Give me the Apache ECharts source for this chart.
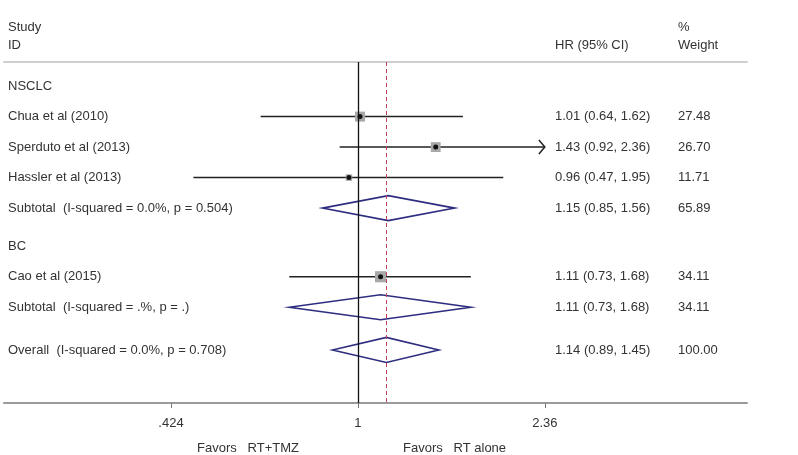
<!DOCTYPE html>
<html>
<head>
<meta charset="utf-8">
<script src="https://cdn.jsdelivr.net/npm/echarts@6/dist/echarts.min.js"></script>
<style>
  html, body { margin: 0; padding: 0; background: #fff; }
  #forest { width: 798px; height: 455px; }
</style>
</head>
<body>
<div id="forest"></div>
<script>
var rowLabels = ['NSCLC', 'Chua et al (2010)', 'Sperduto et al (2013)', 'Hassler et al (2013)',
    'Subtotal  (I-squared = 0.0%, p = 0.504)', 'BC', 'Cao et al (2015)',
    'Subtotal  (I-squared = .%, p = .)', 'Overall  (I-squared = 0.0%, p = 0.708)'];
var rowKinds = ['group', 'study', 'study', 'study', 'subtotal', 'group', 'study', 'subtotal', 'overall'];
var hr     = [null, 1.01, 1.43, 0.96, 1.15, null, 1.11, 1.11, 1.14];
var lower  = [null, 0.64, 0.92, 0.47, 0.85, null, 0.73, 0.73, 0.89];
var upper  = [null, 1.62, 2.36, 1.95, 1.56, null, 1.68, 1.68, 1.45];
var weight = [null, 27.48, 26.70, 11.71, 65.89, null, 34.11, 34.11, 100.00];
var tickValues = [0.424, 1, 2.36];
var tickLabels = ['.424', '1', '2.36'];

(function () {
    var chart = echarts.init(document.getElementById('forest'));
    var font = '13px "Liberation Sans", Arial, sans-serif';
    var txt = '#333';
    var overallHR = hr[rowKinds.indexOf('overall')];

    // vertical slot of each row (gaps before 2nd group and before overall)
    var rowPos = [];
    var p = 0.79;
    rowKinds.forEach(function (k, i) {
        if (i > 0) p += 1;
        if (k == 'group' && i > 0) p += 0.25;
        if (k == 'overall') p += 0.4;
        rowPos.push(p);
    });

    var data = rowKinds.map(function (k, i) {
        return [hr[i] ? Math.log(hr[i]) : 0, rowPos[i], i];
    });

    function renderRow(params, api) {
        var i = api.value(2);
        var y = api.coord([0, rowPos[i]])[1];
        var kids = [];
        kids.push({ type: 'text', style: { text: rowLabels[i], x: 8, y: y, font: font, fill: txt, verticalAlign: 'middle' } });
        if (hr[i] != null) {
            kids.push({ type: 'text', style: {
                text: hr[i].toFixed(2) + ' (' + lower[i].toFixed(2) + ', ' + upper[i].toFixed(2) + ')',
                x: 555, y: y, font: font, fill: txt, verticalAlign: 'middle' } });
            kids.push({ type: 'text', style: { text: weight[i].toFixed(2), x: 678, y: y, font: font, fill: txt, verticalAlign: 'middle' } });
            var xm = api.coord([Math.log(hr[i]), rowPos[i]])[0];
            var xl = api.coord([Math.log(lower[i]), rowPos[i]])[0];
            var xh = api.coord([Math.log(upper[i]), rowPos[i]])[0];
            if (rowKinds[i] == 'study') {
                kids.push({ type: 'line', shape: { x1: xl, y1: y, x2: xh, y2: y }, style: { stroke: '#222', lineWidth: 1.5 } });
                if (upper[i] >= tickValues[tickValues.length - 1]) {
                    kids.push({ type: 'polyline', shape: { points: [[xh - 6, y - 7], [xh, y], [xh - 6, y + 7]] },
                        style: { stroke: '#222', lineWidth: 1.5, fill: null } });
                }
                var s = 1.9 * Math.sqrt(weight[i]);
                kids.push({ type: 'rect', shape: { x: xm - s / 2, y: y - s / 2, width: s, height: s }, style: { fill: '#a8a8a8' } });
                kids.push({ type: 'circle', shape: { cx: xm, cy: y, r: 2.5 }, style: { fill: '#111' } });
            } else {
                var h = 12.5;
                kids.push({ type: 'polygon', shape: { points: [[xl, y], [xm, y - h], [xh, y], [xm, y + h]] },
                    style: { stroke: '#2e2e80', lineWidth: 1.6, fill: null } });
            }
        }
        return { type: 'group', children: kids };
    }

    var option = {
        animation: false,
        grid: { left: 4, right: 51, top: 62, bottom: 52 },
        xAxis: [
            {
                type: 'value',
                position: 'bottom',
                min: Math.log(0.197),
                max: Math.log(5.97),
                splitLine: { show: false },
                axisLine: { onZero: false, lineStyle: { color: '#9a9a9a', width: 2 } },
                axisTick: { customValues: tickValues.map(Math.log), length: 5, lineStyle: { color: '#777' } },
                axisLabel: {
                    customValues: tickValues.map(Math.log),
                    margin: 14,
                    color: txt,
                    fontSize: 13,
                    fontFamily: '"Liberation Sans", Arial, sans-serif',
                    formatter: function (v) {
                        var best = 0;
                        tickValues.forEach(function (t, j) {
                            if (Math.abs(Math.log(t) - v) < Math.abs(Math.log(tickValues[best]) - v)) best = j;
                        });
                        return tickLabels[best];
                    }
                }
            },
            {
                type: 'value',
                position: 'top',
                min: Math.log(0.197),
                max: Math.log(5.97),
                splitLine: { show: false },
                axisTick: { show: false },
                axisLabel: { show: false },
                axisLine: { onZero: false, lineStyle: { color: '#cfcfcf', width: 2 } }
            }
        ],
        yAxis: { type: 'value', inverse: true, min: 0, max: 11.18, show: false, splitLine: { show: false } },
        graphic: [
            { type: 'text', left: 8, top: 21, style: { text: 'Study', font: font, fill: txt } },
            { type: 'text', left: 8, top: 39, style: { text: 'ID', font: font, fill: txt } },
            { type: 'text', left: 555, top: 39, style: { text: 'HR (95% CI)', font: font, fill: txt } },
            { type: 'text', left: 678, top: 21, style: { text: '%', font: font, fill: txt } },
            { type: 'text', left: 678, top: 39, style: { text: 'Weight', font: font, fill: txt } },
            { type: 'text', left: 197, top: 442, style: { text: 'Favors   RT+TMZ', font: font, fill: txt } },
            { type: 'text', left: 403, top: 442, style: { text: 'Favors   RT alone', font: font, fill: txt } }
        ],
        series: [
            {
                type: 'custom',
                renderItem: renderRow,
                data: data,
                silent: true,
                markLine: {
                    silent: true,
                    symbol: 'none',
                    label: { show: false },
                    data: [
                        { xAxis: 0, lineStyle: { color: '#111', width: 1.3, type: 'solid' } },
                        { xAxis: Math.log(overallHR), lineStyle: { color: '#c0405a', width: 1, type: [4, 3] } }
                    ]
                }
            }
        ]
    };
    chart.setOption(option);
    window.addEventListener('resize', chart.resize);
})();
</script>
</body>
</html>
